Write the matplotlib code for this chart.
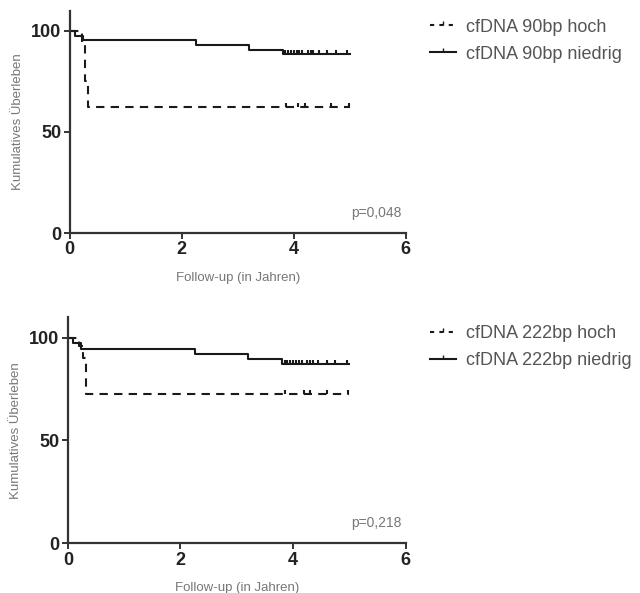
import matplotlib.pyplot as plt
import numpy as np

plt.rcParams['font.family'] = ['Liberation Sans', 'DejaVu Sans']

# Kaplan-Meier step data (time in years, survival in %)
t_hoch_90 = [0, 0.22, 0.27, 0.32, 5.0]
s_hoch_90 = [100, 93.8, 75.0, 62.5, 62.5]
c_hoch_90 = [3.87, 4.07, 4.2, 4.67, 4.98]

t_nied_90 = [0, 0.09, 0.24, 2.25, 3.2, 3.8, 5.0]
s_nied_90 = [100, 97.6, 95.3, 93.0, 90.7, 88.4, 88.4]
c_nied_90 = [3.85, 3.9, 3.95, 4.0, 4.05, 4.1, 4.15, 4.25, 4.3, 4.35, 4.45, 4.6, 4.75, 4.95]

t_hoch_222 = [0, 0.2, 0.27, 0.32, 5.0]
s_hoch_222 = [100, 96.0, 90.0, 72.5, 72.5]
c_hoch_222 = [3.85, 4.2, 4.3, 4.6, 4.98]

t_nied_222 = [0, 0.09, 0.24, 2.25, 3.2, 3.8, 5.0]
s_nied_222 = [100, 97.3, 94.6, 92.2, 89.6, 87.3, 87.3]
c_nied_222 = [3.85, 3.9, 3.95, 4.0, 4.05, 4.1, 4.15, 4.25, 4.3, 4.35, 4.45, 4.6, 4.75, 4.95]

panels = [
    dict(hoch=(t_hoch_90, s_hoch_90, c_hoch_90), nied=(t_nied_90, s_nied_90, c_nied_90),
         labels=['cfDNA 90bp hoch', 'cfDNA 90bp niedrig'], p='p=0,048'),
    dict(hoch=(t_hoch_222, s_hoch_222, c_hoch_222), nied=(t_nied_222, s_nied_222, c_nied_222),
         labels=['cfDNA 222bp hoch', 'cfDNA 222bp niedrig'], p='p=0,218'),
]

fig = plt.figure(figsize=(6.4, 5.93), dpi=100)
positions = [[0.109, 0.607, 0.525, 0.375], [0.106, 0.084, 0.528, 0.381]]
legend_y = [0.996, 0.479]


def censor_y(t, s, c):
    # survival value at censoring times (step function, post)
    t = np.asarray(t)
    s = np.asarray(s)
    idx = np.searchsorted(t, c, side='right') - 1
    return s[idx]


for pos, ly, p in zip(positions, legend_y, panels):
    ax = fig.add_axes(pos)
    th, sh, ch = p['hoch']
    tn, sn, cn = p['nied']
    ax.step(tn, sn, where='post', color='#1a1a1a', lw=1.5)
    ax.plot(cn, censor_y(tn, sn, cn), ls='none', marker=2, ms=2.8, mew=1.5, color='#1a1a1a')
    ax.step(th, sh, where='post', color='#1a1a1a', lw=1.5, dashes=(4, 3))
    ax.plot(ch, censor_y(th, sh, ch), ls='none', marker=2, ms=2.8, mew=1.5, color='#1a1a1a')

    ax.set_xlim(0, 6)
    ax.set_ylim(0, 110)
    ax.set_xticks([0, 2, 4, 6])
    ax.set_yticks([0, 50, 100])
    for sp in ['top', 'right']:
        ax.spines[sp].set_visible(False)
    for sp in ['left', 'bottom']:
        ax.spines[sp].set_linewidth(1.6)
        ax.spines[sp].set_color('#333333')
    ax.tick_params(direction='out', length=4, width=1.4, colors='#333333',
                   labelsize=13, labelcolor='#222222', pad=2)
    for lab in ax.get_xticklabels() + ax.get_yticklabels():
        lab.set_fontweight('bold')
    ax.set_xlabel('Follow-up (in Jahren)', fontsize=9.5, color='#777777', labelpad=10)
    ax.set_ylabel('Kumulatives Überleben', fontsize=9.5, color='#777777', labelpad=5)
    ax.text(5.48, 10, p['p'], fontsize=10, color='#777777', ha='center', va='center')

    h1, = ax.plot([], [], color='#1a1a1a', lw=1.5, dashes=(2, 2.5), marker=2, ms=3,
                  label=p['labels'][0])
    h2, = ax.plot([], [], color='#1a1a1a', lw=1.5, marker=2, ms=3, label=p['labels'][1])
    fig.legend(handles=[h1, h2], loc='upper left', bbox_to_anchor=(0.647, ly),
               frameon=False, fontsize=13, handlelength=1.4, handletextpad=0.6,
               labelspacing=0.55, labelcolor='#555555')

fig.savefig('out.png', dpi=100)
